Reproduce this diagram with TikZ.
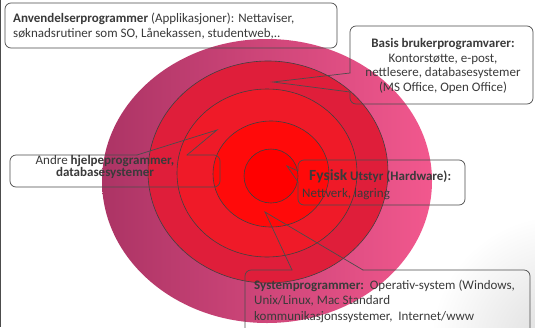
\documentclass[tikz,border=0pt]{standalone}
\usepackage{fontspec}
\setmainfont{Carlito}
\usetikzlibrary{positioning}
\definecolor{txtgray}{HTML}{3A3A3A}
\definecolor{roseL}{HTML}{AC3465}
\definecolor{roseR}{HTML}{F2588E}
\definecolor{ringA}{HTML}{DF1E3A}
\definecolor{ringB}{HTML}{EF1A28}
\definecolor{ringC}{HTML}{FF0A0A}
\definecolor{core}{HTML}{FF0000}
\tikzset{
	ring/.style={draw=black!75, line width=0.6pt},
	callout/.style={draw=black!70, line width=0.7pt, rounded corners=6pt, line cap=round},
	pointer/.style={draw=black!70, line width=0.7pt, line cap=round},
	label/.style={inner sep=0pt, text=txtgray, font=\fontsize{13}{15}\selectfont},
}

\begin{document}
\begin{tikzpicture}[x=1pt, y=-1pt]
		\useasboundingbox (0,0) rectangle (535,327);
		\clip (0,0) rectangle (535,327);
		\fill[white] (0,0) rectangle (535,327);
		\shade[inner color=black!14, outer color=white] (560,345) circle (130);
		\draw[black!70, line width=1pt] (0.5,0) -- (0.5,327);
		
		% layers
		\path[left color=roseL, right color=roseR] (267,181) ellipse [x radius=165, y radius=142];
		\path[ring, fill=ringA] (268,172) ellipse [x radius=120, y radius=111];
		\path[ring, fill=ringB] (267,173) ellipse [x radius=90, y radius=84];
		\path[ring, fill=ringC] (271,174) ellipse [x radius=58, y radius=53];
		\path[ring, fill=core] (271,176) circle (27);
		
		% callout tips
		\coordinate (basistip) at (273,82);
		\coordinate (andretip) at (217,130);
		\coordinate (hwtip) at (287,166);
		\coordinate (systip) at (265,212);
		
		%\draw[callout] (5,3) rectangle (337,48);
		\begin{scope}
			\draw[callout] (5,3) rectangle (337,48);
			
			\draw[callout] (350,92) -- (350,104) -- (533,104) -- (533,26) -- (350,26) -- (350,73);
			\draw[pointer] (350,73) -- (basistip) -- (350,92);
			
			\draw[callout] (187,155) -- (220,155) -- (220,187) -- (10,187) -- (10,155) -- (137,155);
			\draw[pointer] (137,155) -- (andretip) -- (187,155);
			
			\draw[callout] (298,182) -- (298,205) -- (465,205) -- (465,160) -- (298,160) -- (298,171);
			\draw[pointer] (298,171) -- (hwtip) -- (298,182);
			
			\draw[callout] (363,270) -- (530,270) -- (530,345) -- (245,345) -- (245,270) -- (292,270);
			\draw[pointer] (292,270) -- (systip) -- (363,270);
		\end{scope}
		
		\node (anv) [label, anchor=north west, align=left] at (13,13) {\textbf{Anvendelserprogrammer} (Applikasjoner): Nettaviser,\\søknadsrutiner som SO, Lånekassen, studentweb,..};
		\node (basis) [label, anchor=north, align=center, font=\fontsize{13}{14.7}\selectfont] at (443,38) {\textbf{Basis brukerprogramvarer:}\\Kontorstøtte, e-post,\\nettlesere, databasesystemer\\(MS Office, Open Office)};
		\node (andre) [label, align=center, font=\fontsize{13}{11}\selectfont] at (105,167) {Andre \textbf{hjelpeprogrammer,}\\\textbf{databasesystemer}};
		\node (hw) [label, anchor=base west] at (309,180) {\textbf{{\fontsize{15.5}{16}\selectfont Fysisk} Utstyr (Hardware):}};
		\node (hw2) [label, anchor=base west] at (302,197) {Nettverk, lagring};
		\node (sys) [label, anchor=north west, align=left, font=\fontsize{13}{15.5}\selectfont] at (254,279.5) {\textbf{Systemprogrammer:}\ \ Operativ-system (Windows,\\Unix/Linux, Mac Standard\\kommunikasjonssystemer,\ \ Internet/www};
	\end{tikzpicture}
\end{document}
